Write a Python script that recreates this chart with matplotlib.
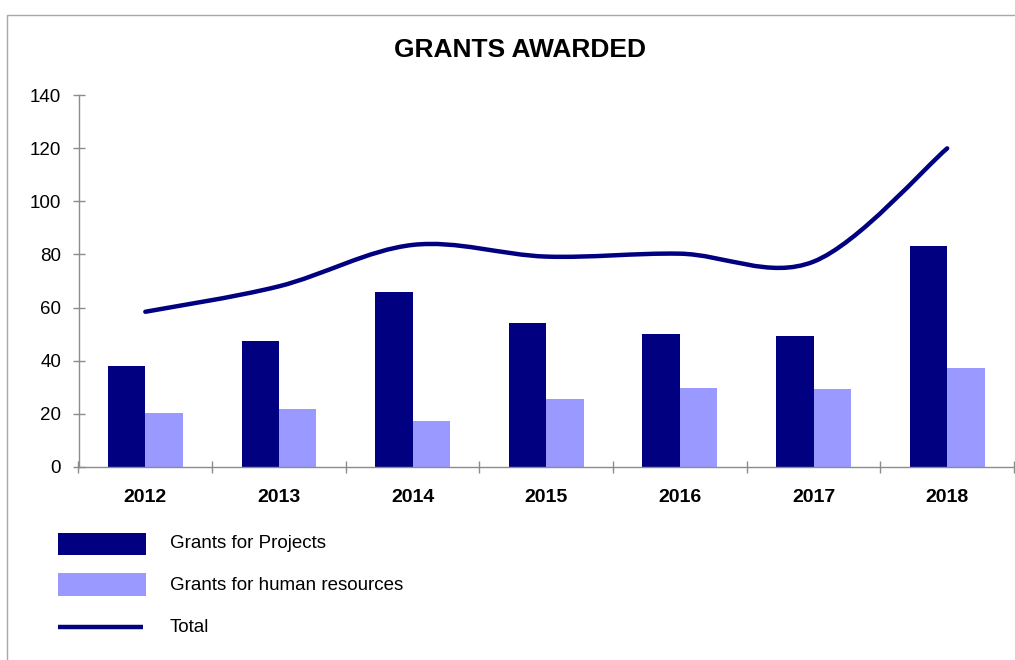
import matplotlib
matplotlib.use("Agg")
import matplotlib.pyplot as plt
from matplotlib.path import Path
from matplotlib.patches import PathPatch, Rectangle
from matplotlib.lines import Line2D
import numpy as np

plt.rcParams['font.family'] = ['Liberation Sans', 'DejaVu Sans']

years = ['2012', '2013', '2014', '2015', '2016', '2017', '2018']
projects = [38, 47.4, 65.9, 54.1, 49.9, 49.3, 83.1]
human_resources = [20.4, 21.6, 17.3, 25.4, 29.8, 29.2, 37.1]
total = [58.4, 68, 83.6, 79.2, 80.3, 77.3, 120]
series_names = ['Grants for Projects', 'Grants for human resources', 'Total']

DARK = '#000080'
LIGHT = '#9999FF'
AXIS = '#8c8c8c'

W, H = 1015, 660
fig = plt.figure(figsize=(W / 100, H / 100), dpi=100)

def fx(px):
    return px / W

def fy(py):
    return 1 - py / H

left, right, top, bottom = 78.5, 1014, 95.3, 466.7
ax = fig.add_axes([fx(left), fy(bottom), fx(right - left), (bottom - top) / H])

x = np.arange(len(years))
bw = 0.28
b1 = ax.bar(x - bw / 2, projects, width=bw, color=DARK, linewidth=0)
b2 = ax.bar(x + bw / 2, human_resources, width=bw, color=LIGHT, linewidth=0)

# smoothed total line: cubic Bezier segments through each point
pts = np.column_stack([x, total]).astype(float)
ext = np.vstack([pts[0], pts, pts[-1]])
verts = [tuple(pts[0])]
codes = [Path.MOVETO]
for i in range(len(pts) - 1):
    p0, p1, p2, p3 = ext[i], ext[i + 1], ext[i + 2], ext[i + 3]
    c1 = p1 + (p2 - p0) / 6
    c2 = p2 - (p3 - p1) / 6
    verts += [tuple(c1), tuple(c2), tuple(p2)]
    codes += [Path.CURVE4] * 3
line_patch = PathPatch(Path(verts, codes), facecolor='none', edgecolor=DARK,
                       linewidth=3.2, capstyle='round', joinstyle='round', zorder=3)
ax.add_patch(line_patch)

ax.set_xlim(-0.5, len(years) - 0.5)
ax.set_ylim(0, 140)
ax.set_yticks(range(0, 141, 20))

for s in ['top', 'right']:
    ax.spines[s].set_visible(False)
for s in ['left', 'bottom']:
    ax.spines[s].set_color(AXIS)
    ax.spines[s].set_linewidth(1)

ax.tick_params(axis='y', direction='inout', length=8, width=1, color=AXIS,
               labelsize=13.5, pad=8.5)
ax.set_xticks(x)
ax.set_xticklabels(years, fontweight='bold', fontsize=14)
ax.tick_params(axis='x', which='major', length=0, pad=16)
ax.set_xticks(np.arange(-0.5, len(years), 1.0), minor=True)
ax.tick_params(axis='x', which='minor', direction='inout', length=9, width=1, color=AXIS)

fig.text(fx(520), fy(50), 'GRANTS AWARDED', ha='center', va='center',
         fontsize=19, fontweight='bold')

# outer frame
fig.add_artist(Rectangle((fx(7), fy(15) - 2), 2, 2, transform=fig.transFigure,
                         facecolor='none', edgecolor='#a8a8a8', linewidth=1))

# legend
fig.add_artist(Rectangle((fx(58), fy(555)), fx(88), 22 / H, transform=fig.transFigure,
                         facecolor=b1.patches[0].get_facecolor(), edgecolor='none'))
fig.add_artist(Rectangle((fx(58), fy(596)), fx(88), 23 / H, transform=fig.transFigure,
                         facecolor=b2.patches[0].get_facecolor(), edgecolor='none'))
fig.add_artist(Line2D([fx(58), fx(143)], [fy(627), fy(627)], transform=fig.transFigure,
                      color=DARK, linewidth=3.2, solid_capstyle='butt'))
for label, py in zip(series_names, [544, 585, 628]):
    fig.text(fx(170), fy(py), label, ha='left', va='center', fontsize=13.5)

fig.savefig('out.png', dpi=100)
